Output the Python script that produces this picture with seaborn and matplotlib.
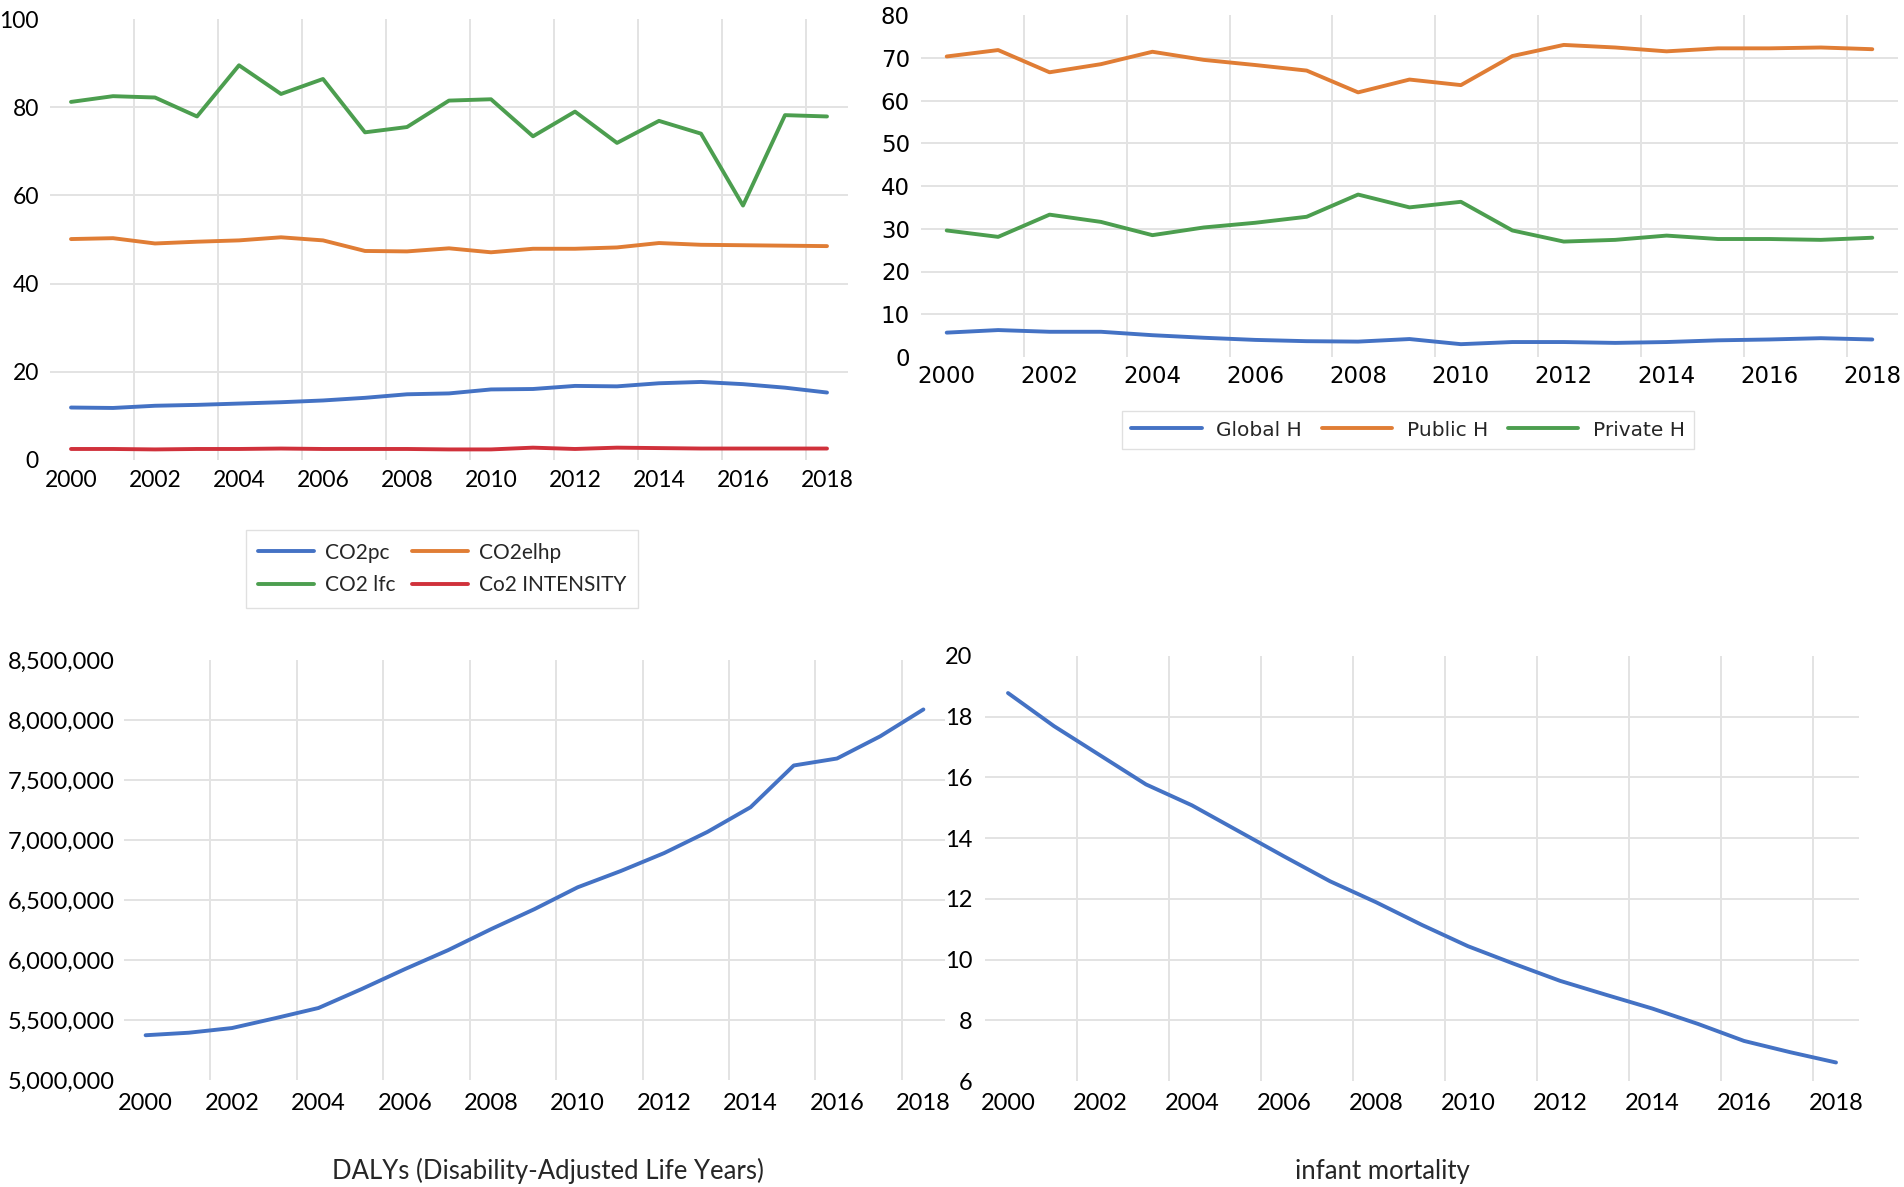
"""Four-panel line chart: CO2 indicators, health spending, DALYs, infant mortality."""

import matplotlib
matplotlib.use("Agg")
import matplotlib.pyplot as plt
from matplotlib.ticker import FuncFormatter
import numpy as np
import pandas as pd
import seaborn as sns

years = list(range(2000, 2019))

co2pc = [11.9, 11.8, 12.3, 12.5, 12.8, 13.1, 13.5, 14.1, 14.9, 15.1,
         16.0, 16.1, 16.8, 16.7, 17.4, 17.7, 17.2, 16.4, 15.3]
co2elhp = [50.1, 50.3, 49.1, 49.5, 49.8, 50.5, 49.8, 47.4, 47.3, 48.0,
           47.1, 47.9, 47.9, 48.2, 49.2, 48.8, 48.7, 48.6, 48.5]
co2lfc = [81.2, 82.5, 82.2, 77.9, 89.5, 83.0, 86.4, 74.3, 75.5, 81.5,
          81.8, 73.4, 79.0, 71.9, 76.9, 74.0, 57.7, 78.2, 77.9]
co2_intensity = [2.5, 2.5, 2.4, 2.5, 2.5, 2.6, 2.5, 2.5, 2.5, 2.4,
                 2.4, 2.8, 2.5, 2.8, 2.7, 2.6, 2.6, 2.6, 2.6]

global_h = [5.7, 6.3, 5.9, 5.9, 5.1, 4.5, 4.0, 3.7, 3.6, 4.2,
            3.0, 3.5, 3.5, 3.3, 3.5, 3.9, 4.1, 4.4, 4.1]
public_h = [70.3, 71.8, 66.6, 68.5, 71.4, 69.5, 68.3, 67.0, 61.9, 64.9,
            63.6, 70.4, 73.0, 72.4, 71.5, 72.2, 72.2, 72.4, 72.0]
private_h = [29.6, 28.1, 33.3, 31.6, 28.5, 30.3, 31.4, 32.8, 38.0, 35.0,
             36.3, 29.6, 27.0, 27.4, 28.4, 27.6, 27.6, 27.4, 27.9]

dalys = [5373000, 5394000, 5433000, 5515000, 5600000, 5758000, 5924000,
         6082000, 6258000, 6424000, 6606000, 6742000, 6891000, 7067000,
         7273000, 7621000, 7679000, 7864000, 8088000]
infant_mortality = [18.78, 17.69, 16.73, 15.77, 15.08, 14.24, 13.40, 12.58,
                    11.89, 11.14, 10.44, 9.86, 9.30, 8.84, 8.39, 7.88, 7.32,
                    6.95, 6.61]

co2_labels = ["CO2pc", "CO2elhp", "CO2 lfc", "Co2 INTENSITY"]
health_labels = ["Global H", "Public H", "Private H"]

BLUE, ORANGE, GREEN, RED = "#4472C4", "#E07D35", "#4C9E4F", "#D0313B"
GRID = "#E3E3E3"
LW = 2.8
W, H = 1904, 1187


def px_axes(fig, left, top, right, bottom):
    return fig.add_axes([left / W, 1 - bottom / H, (right - left) / W, (bottom - top) / H])


def style_axes(ax, yticks, font, size, xpad, ypad):
    ax.set_xlim(1999.5, 2018.5)
    ax.set_ylim(yticks[0], yticks[-1])
    ax.set_xticks(range(2000, 2019, 2))
    ax.set_xticks(np.arange(2001.5, 2018, 2), minor=True)
    ax.set_yticks(yticks)
    ax.tick_params(which="both", length=0)
    ax.tick_params(axis="x", pad=xpad)
    ax.tick_params(axis="y", pad=ypad)
    for lab in ax.get_xticklabels() + ax.get_yticklabels():
        lab.set_fontfamily(font)
        lab.set_fontsize(size)
        lab.set_color("black")
    ax.grid(False)
    ax.grid(which="minor", axis="x", color=GRID, lw=1.4)
    ax.grid(which="major", axis="y", color=GRID, lw=1.4)
    ax.grid(which="major", axis="x", visible=False)
    glines = ax.yaxis.get_gridlines()
    glines[0].set_visible(False)
    glines[-1].set_visible(False)
    for s in ax.spines.values():
        s.set_visible(False)
    ax.set_xlabel("")
    ax.set_ylabel("")
    ax.set_axisbelow(True)


sns.set_theme(style="white")
plt.rcParams["font.family"] = ["Lato", "DejaVu Sans"]

fig = plt.figure(figsize=(W / 100, H / 100), dpi=100)

# top left: CO2 indicators
co2_df = pd.DataFrame({"year": years * 4,
                       "value": co2pc + co2elhp + co2lfc + co2_intensity,
                       "series": sum([[lab] * len(years) for lab in co2_labels], [])})
ax1 = px_axes(fig, 50, 19, 848, 460)
sns.lineplot(data=co2_df, x="year", y="value", hue="series", hue_order=co2_labels,
             palette=[BLUE, ORANGE, GREEN, RED], lw=LW, ax=ax1, legend=True)
style_axes(ax1, [0, 20, 40, 60, 80, 100], "Lato", 16.5, 7, 8)
h, l = ax1.get_legend_handles_labels()
order = [0, 2, 1, 3]
ax1.legend([h[i] for i in order], [l[i] for i in order], ncol=2, loc="center",
           bbox_to_anchor=(442 / W, 1 - 569 / H), bbox_transform=fig.transFigure,
           frameon=True, fancybox=False, edgecolor="#D9D9D9",
           handlelength=2.7, handletextpad=0.5, columnspacing=0.8,
           labelspacing=0.6, borderpad=0.6, prop={"family": "Lato", "size": 15})

# top right: health expenditure
health_df = pd.DataFrame({"year": years * 3,
                          "value": global_h + public_h + private_h,
                          "series": sum([[lab] * len(years) for lab in health_labels], [])})
ax2 = px_axes(fig, 921, 15, 1898, 357)
sns.lineplot(data=health_df, x="year", y="value", hue="series", hue_order=health_labels,
             palette=[BLUE, ORANGE, GREEN], lw=LW, ax=ax2, legend=True)
style_axes(ax2, list(range(0, 81, 10)), "DejaVu Sans", 16.5, 6, 8)
h, l = ax2.get_legend_handles_labels()
ax2.legend(h, l, ncol=3, loc="center",
           bbox_to_anchor=(1408 / W, 1 - 430 / H), bbox_transform=fig.transFigure,
           frameon=True, fancybox=False, edgecolor="#D9D9D9",
           handlelength=3.5, handletextpad=0.7, columnspacing=1.0,
           borderpad=0.45, prop={"family": "DejaVu Sans", "size": 14.5})

# bottom left: DALYs
ax3 = px_axes(fig, 124, 660, 945, 1080)
sns.lineplot(x=years, y=dalys, color=BLUE, lw=LW, ax=ax3)
style_axes(ax3, list(range(5000000, 8500001, 500000)), "Lato", 17, 9, 7)
ax3.yaxis.set_major_formatter(FuncFormatter(lambda v, _: f"{v:,.0f}"))
for lab in ax3.get_yticklabels():
    lab.set_fontfamily("Lato")
    lab.set_fontsize(17)
fig.text(548 / W, 1 - 1171 / H, "DALYs (Disability-Adjusted Life Years)",
         ha="center", va="center", fontsize=18.5, family="Lato")

# bottom right: infant mortality
ax4 = px_axes(fig, 985, 656, 1859, 1081)
sns.lineplot(x=years, y=infant_mortality, color=BLUE, lw=LW, ax=ax4)
style_axes(ax4, list(range(6, 21, 2)), "Lato", 17, 9, 9)
fig.text(1382 / W, 1 - 1171 / H, "infant mortality",
         ha="center", va="center", fontsize=18.5, family="Lato")

fig.savefig("out.png", dpi=100, facecolor="white")
